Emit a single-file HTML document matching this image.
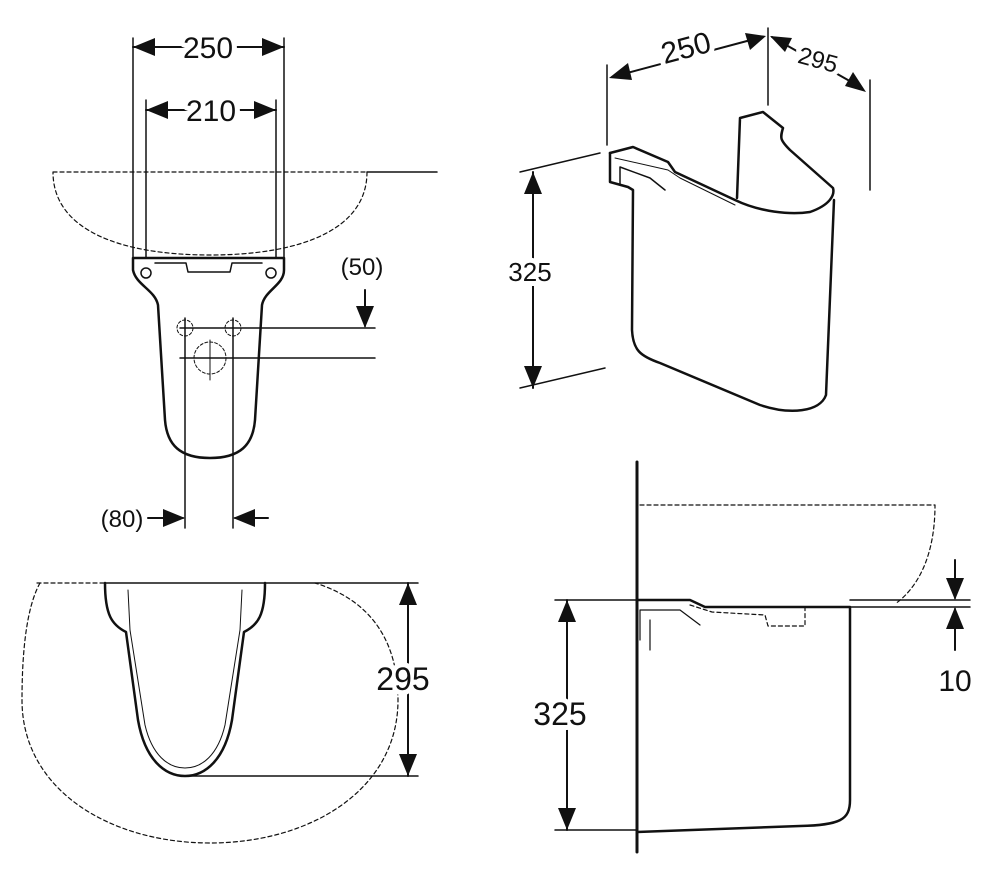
<!DOCTYPE html>
<html><head><meta charset="utf-8"><style>
html,body{margin:0;padding:0;background:#fff}
svg{display:block}
text{font-family:"Liberation Sans",Arial,sans-serif;fill:#111;stroke:#fff;stroke-width:10px;paint-order:stroke;stroke-linejoin:round}
</style></head><body>
<svg width="999" height="886" viewBox="0 0 999 886" xmlns="http://www.w3.org/2000/svg">
<g stroke="#111" fill="none" stroke-linecap="round" stroke-linejoin="round">
<line x1="133" y1="38" x2="133" y2="258" stroke-width="1.5"/>
<line x1="284" y1="38" x2="284" y2="258" stroke-width="1.5"/>
<line x1="146" y1="100" x2="146" y2="258" stroke-width="1.5"/>
<line x1="276" y1="100" x2="276" y2="258" stroke-width="1.5"/>
<line x1="133" y1="47" x2="284" y2="47" stroke-width="2"/>
<line x1="146" y1="110" x2="276" y2="110" stroke-width="2"/>
<path d="M53,172 L367,172 M367,172 C367,230 300,255 210,255 C120,255 53,230 53,172" stroke-dasharray="4,3" stroke-width="1.2"/>
<line x1="367" y1="172" x2="437" y2="172" stroke-width="1.5"/>
<path d="M133,258 L284,258 L284,270 C284,285 265,290 262,305 L255,420 C253,445 240,458 210,458 C180,458 167,445 165,420 L158,305 C155,290 136,285 133,270 Z" stroke-width="2.5"/>
<path d="M155,263 L186,263 L188,272 L230,272 L232,263 L262,263" stroke-width="1.5"/>
<circle cx="146" cy="273" r="5" stroke-width="1.5"/>
<circle cx="271" cy="273" r="5" stroke-width="1.5"/>
<line x1="180" y1="328" x2="375" y2="328" stroke-width="1.5"/>
<line x1="180" y1="358" x2="375" y2="358" stroke-width="1.5"/>
<circle cx="185" cy="328" r="8" stroke-dasharray="3,2" stroke-width="1"/>
<circle cx="233" cy="328" r="8" stroke-dasharray="3,2" stroke-width="1"/>
<circle cx="210" cy="358" r="16" stroke-dasharray="3,2" stroke-width="1"/>
<line x1="185" y1="318" x2="185" y2="528" stroke-width="1.5"/>
<line x1="233" y1="318" x2="233" y2="528" stroke-width="1.5"/>
<line x1="210" y1="340" x2="210" y2="380" stroke-width="1"/>
<line x1="365" y1="290" x2="365" y2="326" stroke-width="2"/>
<line x1="148" y1="518" x2="183" y2="518" stroke-width="2"/>
<line x1="235" y1="518" x2="268" y2="518" stroke-width="2"/>

<path d="M40,583 C25,610 22,660 22,700 C22,790 110,843 210,843 C310,843 398,790 398,700 C398,640 370,600 315,583" stroke-dasharray="4,3" stroke-width="1.2"/>
<line x1="37" y1="583" x2="105" y2="583" stroke-dasharray="4,3" stroke-width="1.2"/>
<line x1="105" y1="583" x2="418" y2="583" stroke-width="1.5"/>
<path d="M105,583 C105,615 112,625 126,632 L138,720 C145,760 165,776 185,776 C205,776 225,760 232,720 L244,632 C258,625 265,615 265,583" stroke-width="2.5"/>
<path d="M128,590 L130,630 L145,725 C152,755 168,768 185,768 C202,768 218,755 225,725 L240,630 L242,590" stroke-width="1"/>
<line x1="185" y1="776" x2="418" y2="776" stroke-width="1.5"/>
<line x1="408" y1="583" x2="408" y2="776" stroke-width="2"/>

<line x1="607" y1="65" x2="607" y2="145" stroke-width="1.5"/>
<line x1="768" y1="28" x2="768" y2="105" stroke-width="1.5"/>
<line x1="870" y1="80" x2="870" y2="190" stroke-width="1.5"/>
<line x1="612" y1="77" x2="762" y2="37" stroke-width="2"/>
<line x1="772" y1="37" x2="862" y2="88" stroke-width="2"/>
<line x1="520" y1="172" x2="600" y2="153" stroke-width="1.5"/>
<line x1="520" y1="388" x2="605" y2="368" stroke-width="1.5"/>
<line x1="533" y1="172" x2="533" y2="388" stroke-width="2"/>
<path d="M610,153 L633,147 L668,162 L675,172 L735,200 C760,212 790,215 810,212 C830,205 835,195 833,188 L790,150 C780,140 780,138 783,128 L763,112 L740,118 L737,198" stroke-width="2.5"/>
<path d="M610,153 L610,182 L628,187 L633,190 L632,330 C633,350 640,356 660,363 L760,405 C790,415 820,412 826,395 L834,200" stroke-width="2.5"/>
<path d="M620,167 L620,185 M620,167 L650,178 L665,190" stroke-width="1.5"/>
<path d="M615,158 L668,170 L680,178 L735,205" stroke-width="1"/>

<line x1="637" y1="462" x2="637" y2="852" stroke-width="3"/>
<path d="M640,505 L935,505 C935,560 915,590 895,604" stroke-dasharray="4,3" stroke-width="1.2"/>
<path d="M690,605 L712,612 L765,615 L768,626 L805,626 L805,608" stroke-dasharray="4,3" stroke-width="1.2"/>
<path d="M637,600 L690,600 L705,607 L850,607 L850,800 C850,820 840,825 800,826 L637,832" stroke-width="2.5"/>
<path d="M640,640 L640,610 L680,610 L700,625 M650,620 L650,650" stroke-width="1.2"/>
<line x1="555" y1="600" x2="637" y2="600" stroke-width="1.5"/>
<line x1="555" y1="830" x2="637" y2="830" stroke-width="1.5"/>
<line x1="567" y1="600" x2="567" y2="830" stroke-width="2"/>
<line x1="850" y1="600" x2="970" y2="600" stroke-width="1.5"/>
<line x1="850" y1="607" x2="970" y2="607" stroke-width="1.5"/>
<line x1="955" y1="560" x2="955" y2="598" stroke-width="2"/>
<line x1="955" y1="609" x2="955" y2="650" stroke-width="2"/>
</g>
<g fill="#111">
<polygon points="133,47 155,38 155,56"/><polygon points="284,47 262,38 262,56"/>
<polygon points="146,110 168,101 168,119"/><polygon points="276,110 254,101 254,119"/>
<polygon points="365,328 356,306 374,306"/>
<polygon points="185,518 163,509 163,527"/><polygon points="233,518 255,509 255,527"/>
<polygon points="408,583 399,605 417,605"/><polygon points="408,776 399,754 417,754"/>
<polygon points="609,78 628,63 632,80"/><polygon points="766,36 745,33 750,50"/>
<polygon points="770,36 785,52 792,38"/><polygon points="866,92 853,72 845,86"/>
<polygon points="533,172 524,194 542,194"/><polygon points="533,388 524,366 542,366"/>
<polygon points="567,600 558,622 576,622"/><polygon points="567,830 558,808 576,808"/>
<polygon points="955,600 946,578 964,578"/><polygon points="955,607 946,629 964,629"/>
</g>
<g font-size="30">
<text x="208" y="58" text-anchor="middle">250</text>
<text x="211" y="121" text-anchor="middle">210</text>
<text x="362" y="275" text-anchor="middle" font-size="24">(50)</text>
<text x="122" y="527" text-anchor="middle" font-size="24">(80)</text>
<text x="403" y="690" text-anchor="middle" font-size="32">295</text>
<text x="686" y="58" text-anchor="middle" transform="rotate(-15 686 48)">250</text>
<text x="818" y="68" text-anchor="middle" font-size="24" transform="rotate(15 818 60)">295</text>
<text x="530" y="281" text-anchor="middle" font-size="26">325</text>
<text x="560" y="725" text-anchor="middle" font-size="32">325</text>
<text x="955" y="691" text-anchor="middle" font-size="30">10</text>
</g>
</svg>
</body></html>
